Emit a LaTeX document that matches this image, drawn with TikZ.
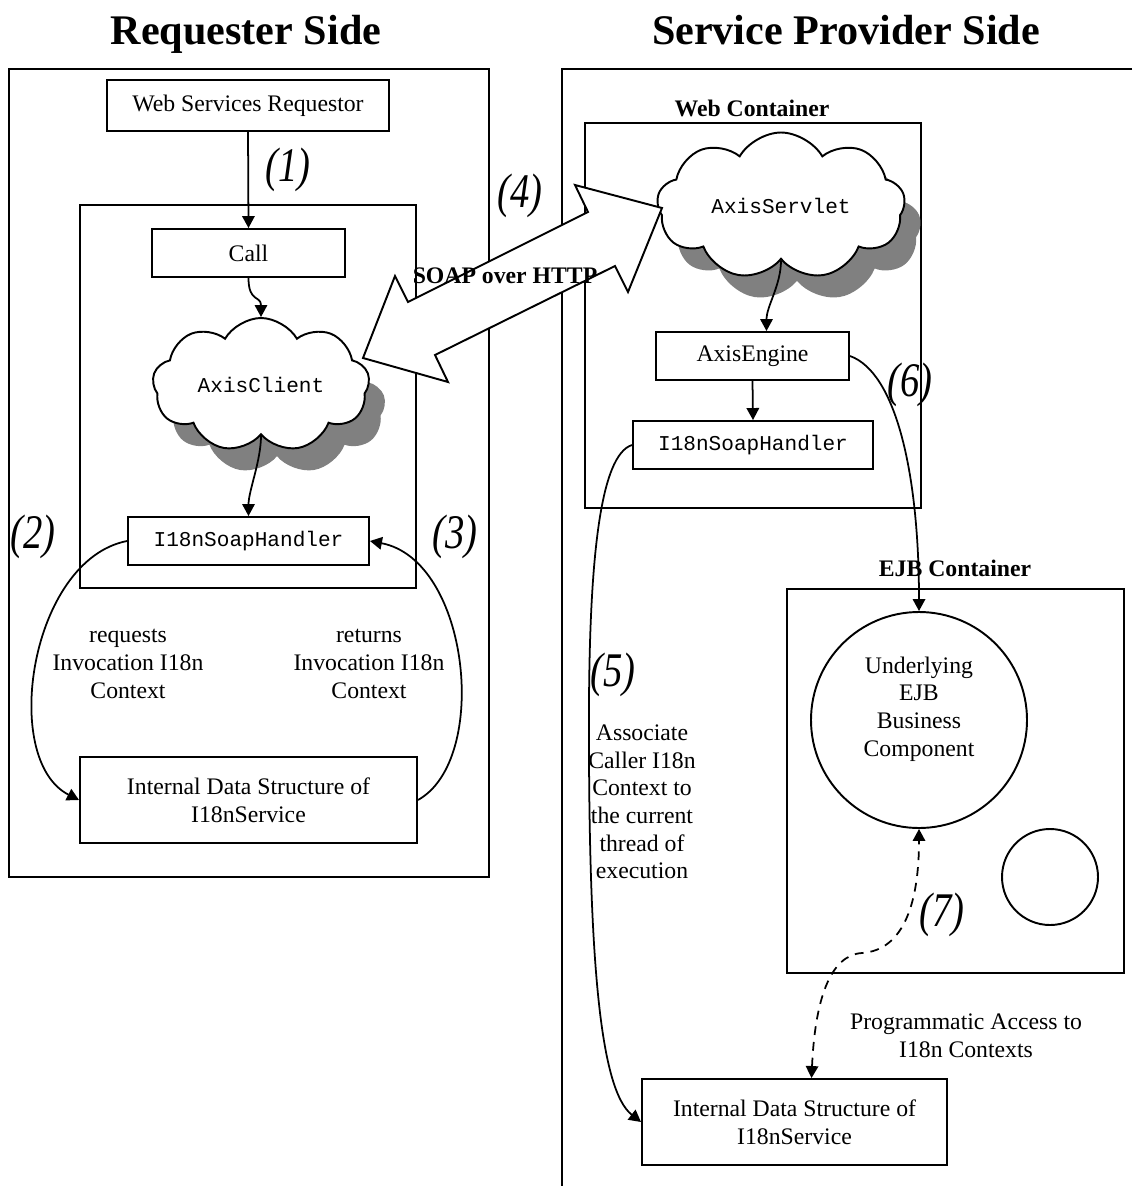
\documentclass[tikz,border=0pt]{standalone}
\usepackage{fontspec}
\setmainfont{Liberation Serif}
\setmonofont{Liberation Mono}
\usetikzlibrary{arrows.meta,shapes.symbols,shadows,calc}

\tikzset{
  frame/.style={draw, line width=1.1pt},
  box/.style 2 args={draw, line width=1.1pt, fill=white, align=center,
    minimum width=#1*0.02cm, minimum height=#2*0.02cm},
  code/.style={font=\fontsize{12}{14}\ttfamily},
  head/.style={font=\fontsize{24}{28}\bfseries, anchor=base},
  tag/.style={font=\fontsize{13.5}{15.7}\bfseries},
  num/.style={font=\fontsize{22}{26}\itshape},
  note/.style={align=center},
  conn/.style={line width=1pt, -{Triangle[length=0.24cm,width=0.25cm]}},
  puff/.style={cloud, cloud puffs=9, cloud puff arc=120, cloud ignores aspect,
    draw, line width=1.1pt, fill=white,
    drop shadow={fill=black!50, opacity=1, shadow xshift=0.32cm, shadow yshift=-0.44cm}},
}

\begin{document}
\begin{tikzpicture}[x=0.02cm, y=-0.02cm,
  every node/.style={font=\fontsize{13.5}{15.7}\selectfont, inner sep=0pt}]
\useasboundingbox (0,0) rectangle (1132,1186);

% side headings
\node[head] (hreq) at (246,45) {Requester Side};
\node[head] (hsrv) at (846,45) {Service Provider Side};

% containers
\draw[frame] (9,69) rectangle (489,877);
\draw[frame] (1132,69) -- (562,69) -- (562,1186);
\draw[frame] (80,205) rectangle (416,588);
\draw[frame] (585,123) rectangle (921,508);
\draw[frame] (787,589) rectangle (1124,973);
\node[tag] (lweb) at (752,108) {Web Container};
\node[tag] (lejb) at (955,568) {EJB Container};

% requester side boxes
\node[box={282}{51}] (wsr) at (248,105.5) {Web Services Requestor};
\node[box={193}{48}] (call) at (248.5,253) {Call};
\node[box={241}{48}, code] (handL) at (248.5,541) {I18nSoapHandler};
\node[box={337}{86}] (idsL) at (248.5,800) {Internal Data Structure of\\I18nService};

% provider side boxes
\node[box={193}{48}] (axeng) at (752.5,356) {AxisEngine};
\node[box={240}{48}, code] (handR) at (753,445) {I18nSoapHandler};
\node[box={305}{86}] (idsR) at (794.5,1122) {Internal Data Structure of\\I18nService};
\node[draw, circle, line width=1.1pt, minimum size=216*0.02cm] (ejb) at (919,720) {};
\node[note] (ejbt) at (919,709) {Underlying\\EJB\\Business\\Component};
\node[draw, circle, line width=1.1pt, minimum size=96*0.02cm] (aux) at (1050,877) {};

% clouds
\node[puff, code, minimum width=217*0.02cm, minimum height=134*0.02cm] (clL) at (261,385) {AxisClient};
\node[puff, code, minimum width=248*0.02cm, minimum height=147*0.02cm] (clR) at (781,206) {AxisServlet};

% connectors
\draw[conn] (wsr.south) -- (call.north);
\draw[conn] (call.south) .. controls +(0,25) and +(0,-22) .. (clL.north);
\draw[conn] (clL.south) .. controls +(0,25) and +(0,-25) .. (handL.north);
\draw[conn] (handL.west) .. controls (30,560) and (0,760) .. (idsL.west);
\draw[conn] (idsL.east) .. controls (490,760) and (470,560) .. (handL.east);
\draw[conn] (clR.south) .. controls +(0,25) and +(0,-25) .. ($(axeng.north)+(14,0)$);
\draw[conn] (axeng.south) -- (handR.north);
\draw[conn] (axeng.east) .. controls (895,372) and (919,470) .. (ejb.north);
\draw[conn] (handR.west) .. controls (600,455) and (590,560) .. (589,700)
  .. controls (588,960) and (600,1090) .. (idsR.west);
\draw[conn, dashed, dash pattern=on 5pt off 4pt, {Triangle[length=0.24cm,width=0.25cm]}-{Triangle[length=0.24cm,width=0.25cm]}]
  ($(idsR.north)+(17,0)$) .. controls (815,1000) and (830,955) .. (862,953)
  .. controls (905,950) and (919,900) .. (ejb.south);

% SOAP over HTTP block arrow
\draw[line width=1.1pt, fill=white, line join=miter]
  (662,208) -- (575,185) -- (588,212) -- (408,302) -- (395,276) -- (363,358)
  -- (448,382) -- (435,355) -- (615,266) -- (628,292) -- cycle;
\node[tag] (soap) at (505,276) {SOAP over HTTP};

% step numbers
\node[num] (n1) at (288,170) {\scalebox{1}[1.25]{(1)}};
\node[num] (n2) at (33,537) {\scalebox{1}[1.25]{(2)}};
\node[num] (n3) at (455,537) {\scalebox{1}[1.25]{(3)}};
\node[num] (n4) at (520,196) {\scalebox{1}[1.25]{(4)}};
\node[num] (n5) at (613,675) {\scalebox{1}[1.25]{(5)}};
\node[num] (n6) at (910,385) {\scalebox{1}[1.25]{(6)}};
\node[num] (n7) at (942,915) {\scalebox{1}[1.25]{(7)}};

% connector notes
\node[note] (treq) at (128,664) {requests\\Invocation I18n\\Context};
\node[note] (tret) at (369,664) {returns\\Invocation I18n\\Context};
\node[note] (tasc) at (642,802) {Associate\\Caller I18n\\Context to\\the current\\thread of\\execution};
\node[note] (tprg) at (966,1036) {Programmatic Access to\\I18n Contexts};
\end{tikzpicture}
\end{document}
